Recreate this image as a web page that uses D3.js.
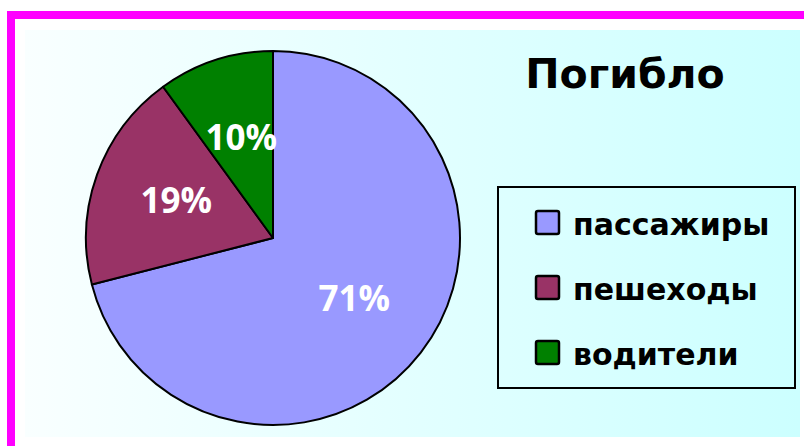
<!DOCTYPE html>
<html><head><meta charset="utf-8">
<script src="https://cdn.jsdelivr.net/npm/d3@7/dist/d3.min.js"></script>
<style>html,body{margin:0;padding:0;background:#fff;overflow:hidden}</style>
</head><body>
<svg id="c" width="804" height="446"></svg>
<script>
const categories = ["пассажиры", "пешеходы", "водители"];
const values = [71, 19, 10];
const colors = ["#9999FF", "#993366", "#008000"];
const title = "Погибло";

const svg = d3.select("#c");
const W = 804, H = 446;
const defs = svg.append("defs");
const grad = defs.append("linearGradient").attr("id","bg").attr("x1","0").attr("x2","1").attr("y1","0").attr("y2","0");
grad.append("stop").attr("offset","0").attr("stop-color","#f9ffff");
grad.append("stop").attr("offset","1").attr("stop-color","#ccffff");

svg.append("rect").attr("x",0).attr("y",0).attr("width",W).attr("height",H).attr("fill","#fff");
svg.append("rect").attr("x",25).attr("y",30).attr("width",775).attr("height",407).attr("fill","url(#bg)");
svg.append("rect").attr("x",11).attr("y",15).attr("width",900).attr("height",600)
  .attr("fill","none").attr("stroke","#ff00ff").attr("stroke-width",8);

const cx = 273, cy = 238, R = 187;
const pie = d3.pie().sort(null).value(d => d)(values);
const arc = d3.arc().innerRadius(0).outerRadius(R);
const labelArc = d3.arc().innerRadius(R*0.55).outerRadius(R*0.55);
const total = d3.sum(values);
const g = svg.append("g").attr("transform",`translate(${cx},${cy})`);
g.selectAll("path").data(pie).join("path")
  .attr("d", arc).attr("fill",(d,i)=>colors[i]).attr("stroke","#000").attr("stroke-width",2).attr("stroke-linejoin","round");
g.selectAll("text").data(pie).join("text")
  .attr("transform", d => `translate(${labelArc.centroid(d)})`)
  .attr("text-anchor","middle").attr("dy","0.28em")
  .attr("font-family","Open Sans, DejaVu Sans, sans-serif").attr("font-weight","bold")
  .attr("font-size",35).attr("fill","#fff")
  .text(d => Math.round(d.value/total*100) + "%");

svg.append("text").attr("x",625).attr("y",88).attr("text-anchor","middle")
  .attr("font-family","DejaVu Sans, sans-serif").attr("font-weight","bold").attr("font-size",41)
  .attr("fill","#000").text(title);

const lg = svg.append("g");
lg.append("rect").attr("x",498).attr("y",187).attr("width",297).attr("height",201)
  .attr("fill","none").attr("stroke","#000").attr("stroke-width",2);
const rowY = d3.scalePoint().domain(categories).range([235, 365]);
const rows = lg.selectAll("g.row").data(categories).join("g").attr("class","row");
rows.append("rect").attr("x",536).attr("y",d=>rowY(d)-24).attr("width",23).attr("height",23)
  .attr("rx",2).attr("fill",(d,i)=>colors[i]).attr("stroke","#000").attr("stroke-width",2.5);
rows.append("text").attr("x",573).attr("y",d=>rowY(d))
  .attr("font-family","DejaVu Sans, sans-serif").attr("font-weight","bold").attr("font-size",30)
  .attr("fill","#000").text(d=>d);
</script>
</body></html>
